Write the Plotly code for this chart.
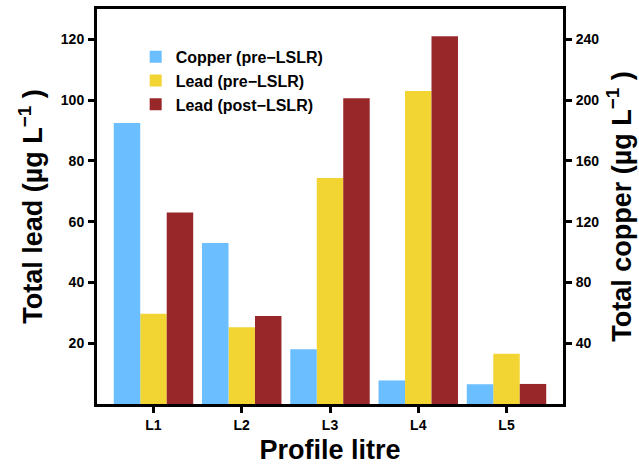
import plotly.graph_objects as go

# Profile litres sampled at the tap
litres = ["L1", "L2", "L3", "L4", "L5"]

# Total copper before lead service line replacement (µg/L, right axis)
copper_pre = [185, 106, 36, 15.5, 13]
# Total lead before and after lead service line replacement (µg/L, left axis)
lead_pre = [29.7, 25.3, 74.4, 103, 16.5]
lead_post = [63, 29, 100.6, 121, 6.6]

lead_ticks = [20, 40, 60, 80, 100, 120]
copper_ticks = [40, 80, 120, 160, 200, 240]

FONT = "Liberation Sans, Arial, Helvetica, sans-serif"
BLUE = "#6BBEFF"
YELLOW = "#F2D532"
RED = "#98272A"

bar_w = 0.3

fig = go.Figure()
fig.add_trace(go.Bar(
    x=litres, y=copper_pre, name="Copper (pre−LSLR)", yaxis="y2",
    marker=dict(color=BLUE, line=dict(width=0)), width=bar_w, offset=-1.5 * bar_w,
))
fig.add_trace(go.Bar(
    x=litres, y=lead_pre, name="Lead (pre−LSLR)",
    marker=dict(color=YELLOW, line=dict(width=0)), width=bar_w, offset=-0.5 * bar_w,
))
fig.add_trace(go.Bar(
    x=litres, y=lead_post, name="Lead (post−LSLR)",
    marker=dict(color=RED, line=dict(width=0)), width=bar_w, offset=0.5 * bar_w,
))

axis_font = dict(family=FONT, size=14, color="black", weight="bold")
title_font = dict(family=FONT, size=27, color="black", weight="bold")

fig.update_layout(
    width=639, height=465,
    margin=dict(l=97, r=76, t=9, b=61),
    paper_bgcolor="white", plot_bgcolor="white",
    font=dict(family=FONT, color="black", weight="bold"),
    barmode="overlay",
    showlegend=True,
    legend=dict(
        x=0.083, y=0.922, xanchor="left", yanchor="top",
        font=dict(family=FONT, size=16, color="black", weight="bold"),
        bgcolor="rgba(0,0,0,0)", traceorder="normal",
    ),
    xaxis=dict(
        type="category", range=[-0.64, 4.64], automargin=False,
        showline=True, linecolor="black", linewidth=3, mirror=True,
        ticks="outside", ticklen=6, tickwidth=2.5, tickcolor="black",
        tickfont=axis_font, showgrid=False, zeroline=False,
        ticklabelstandoff=0,
        title=dict(text="Profile litre", font=title_font, standoff=14),
    ),
    yaxis=dict(
        range=[0, 130], tickvals=lead_ticks, automargin=False,
        showline=True, linecolor="black", linewidth=3,
        ticks="outside", ticklen=6, tickwidth=2.5, tickcolor="black",
        tickfont=axis_font, showgrid=False, zeroline=False,
        ticklabelstandoff=1,
        title=dict(text="Total lead (µg L<sup>−1</sup> )", font=title_font, standoff=11),
    ),
    yaxis2=dict(
        range=[0, 260], tickvals=copper_ticks, overlaying="y", side="right",
        automargin=False,
        showline=True, linecolor="black", linewidth=3,
        ticks="outside", ticklen=6, tickwidth=2.5, tickcolor="black",
        tickfont=axis_font, showgrid=False, zeroline=False,
        ticklabelstandoff=1,
        title=dict(text="Total copper (µg L<sup>−1</sup> )", font=title_font, standoff=14),
    ),
)

fig.write_html("out.html")
